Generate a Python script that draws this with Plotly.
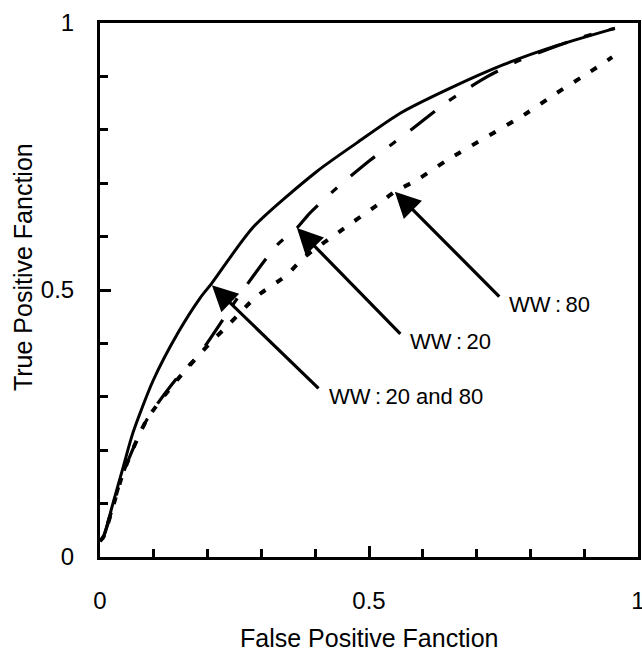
import plotly.graph_objects as go

# ROC curves: false positive fraction vs true positive fraction
fpf_both = [0.0, 0.006, 0.024, 0.043, 0.061, 0.099, 0.145, 0.186, 0.208, 0.285,
            0.403, 0.478, 0.558, 0.651, 0.75, 0.85, 0.957]
tpf_both = [0.03, 0.037, 0.10, 0.168, 0.232, 0.331, 0.42, 0.485, 0.513, 0.618,
            0.722, 0.776, 0.831, 0.878, 0.922, 0.958, 0.99]

fpf_ww20 = [0.0, 0.006, 0.02, 0.043, 0.087, 0.143, 0.186, 0.257, 0.329, 0.366,
            0.39, 0.44, 0.502, 0.548, 0.582, 0.645, 0.719, 0.78, 0.898, 0.957]
tpf_ww20 = [0.03, 0.037, 0.08, 0.157, 0.257, 0.335, 0.382, 0.487, 0.584, 0.616,
            0.644, 0.691, 0.743, 0.777, 0.803, 0.852, 0.899, 0.93, 0.974, 0.99]

fpf_ww80 = [0.0, 0.006, 0.02, 0.043, 0.087, 0.143, 0.204, 0.242, 0.29, 0.347,
            0.378, 0.446, 0.515, 0.548, 0.589, 0.645, 0.793, 0.849, 0.91, 0.952]
tpf_ww80 = [0.03, 0.037, 0.08, 0.157, 0.257, 0.331, 0.40, 0.438, 0.487, 0.528,
            0.56, 0.61, 0.659, 0.684, 0.706, 0.743, 0.831, 0.869, 0.908, 0.936]

# Callouts: label, arrow tip (on curve), arrow tail
callout_text = ["WW\u2009:\u200920 and 80", "WW\u2009:\u200920", "WW\u2009:\u200980"]
callout_tip = [(0.208, 0.509), (0.366, 0.616), (0.548, 0.684)]
callout_tail = [(0.409, 0.313), (0.561, 0.415), (0.745, 0.485)]

FONT = "Liberation Sans, Noto Sans CJK JP, sans-serif"

fig = go.Figure()
fig.add_trace(go.Scatter(x=fpf_ww80, y=tpf_ww80, mode="lines",
                         line=dict(color="black", width=4, dash="7px,13px",
                                   shape="spline", smoothing=0.7),
                         showlegend=False))
fig.add_trace(go.Scatter(x=fpf_ww20, y=tpf_ww20, mode="lines",
                         line=dict(color="black", width=3.2, dash="31px,18px,8px,18px",
                                   shape="spline", smoothing=0.7),
                         showlegend=False))
fig.add_trace(go.Scatter(x=fpf_both, y=tpf_both, mode="lines",
                         line=dict(color="black", width=3, shape="spline", smoothing=0.7),
                         showlegend=False))

for text, tip, tail in zip(callout_text, callout_tip, callout_tail):
    fig.add_annotation(x=tip[0], y=tip[1], ax=tail[0], ay=tail[1],
                       xref="x", yref="y", axref="x", ayref="y",
                       text="", showarrow=True, arrowhead=2, arrowsize=1.6,
                       arrowwidth=3.2, arrowcolor="black")
    fig.add_annotation(x=tail[0] + 0.012, y=tail[1] - 0.012, xref="x", yref="y",
                       text=text, showarrow=False, xanchor="left", yanchor="middle",
                       font=dict(family=FONT, size=22, color="black"))

# Axis titles
fig.add_annotation(x=0.5, y=-0.152, xref="paper", yref="paper",
                   text="False Positive Fanction", showarrow=False,
                   xanchor="center", yanchor="middle",
                   font=dict(family=FONT, size=25, color="black"))
fig.add_annotation(x=-0.143, y=0.543, xref="paper", yref="paper",
                   text="True Positive Fanction", showarrow=False, textangle=-90,
                   xanchor="center", yanchor="middle",
                   font=dict(family=FONT, size=25, color="black"))

axis_common = dict(
    range=[0, 1], showgrid=False, zeroline=False, automargin=False,
    showline=True, linecolor="black", linewidth=3, mirror=True,
    tickmode="array", tickvals=[0, 0.5, 1], ticktext=["0", "0.5", "1"],
    ticks="inside", ticklen=11, tickwidth=2.5, tickcolor="black",
    minor=dict(dtick=0.1, ticks="inside", ticklen=8, tickwidth=2.5, tickcolor="black"),
    tickfont=dict(family=FONT, size=24, color="black"),
    ticklabeloverflow="allow",
)

fig.update_xaxes(**axis_common, ticklabelstandoff=20)
fig.update_yaxes(**axis_common, ticklabelstandoff=18)

fig.update_layout(
    width=642, height=657,
    margin=dict(l=100, r=4, t=23, b=100),
    paper_bgcolor="white", plot_bgcolor="white",
)

fig.write_html("out.html")
